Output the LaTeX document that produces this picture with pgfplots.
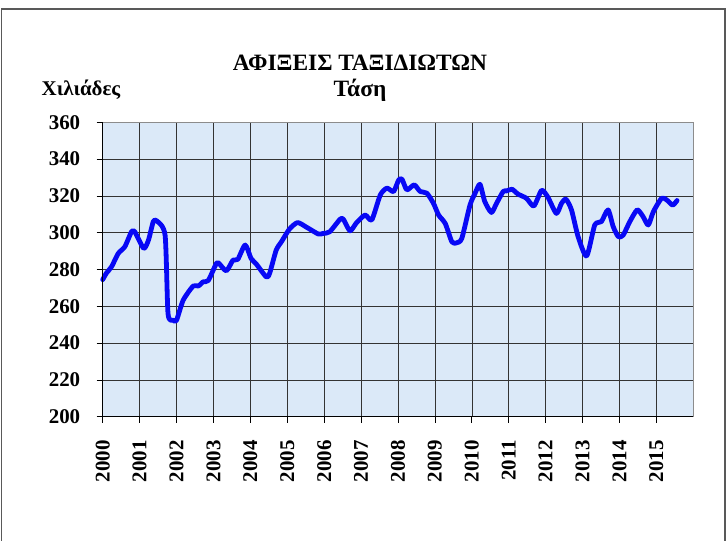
\documentclass[border=0pt]{standalone}
\usepackage{fontspec}
\setmainfont{Liberation Serif}
\usepackage{pgfplots}
\pgfplotsset{compat=1.18}
\definecolor{bgblue}{RGB}{219,233,248}
\definecolor{lineblue}{RGB}{8,8,245}
\begin{document}
\begin{tikzpicture}
\useasboundingbox (0bp,0bp) rectangle (728bp,541bp);
\draw[line width=1.2bp, black!65] (1.5bp,-10bp) rectangle (725bp,532bp);
\node[font=\bfseries\fontsize{23.5}{26}\selectfont] at (360bp,478bp) {ΑΦΙΞΕΙΣ ΤΑΞΙΔΙΩΤΩΝ};
\node[font=\bfseries\fontsize{23.5}{26}\selectfont] at (360bp,451bp) {Τάση};
\node[font=\bfseries\fontsize{21}{24}\selectfont] at (81bp,451bp) {Χιλιάδες};
\begin{axis}[
  at={(102.7bp,124.3bp)}, anchor=south west,
  scale only axis, width=590.6bp, height=294.4bp,
  xmin=2000, xmax=2016, ymin=200, ymax=360,
  xtick={2000,...,2015}, minor x tick num=1,
  ytick={200,220,...,360},
  xticklabels={2000,2001,2002,2003,2004,2005,2006,2007,2008,2009,2010,2011,2012,2013,2014,2015},
  grid=major,
  major grid style={black!80, line width=0.5bp},
  axis background/.style={fill=bgblue},
  axis line style={draw=black!45, line width=1.2bp},
  tick align=outside, xtick pos=bottom, ytick pos=left,
  major tick length=6bp, minor tick length=4bp,
  tick style={black, line width=0.6bp},
  minor x tick style={yshift=4bp},
  /pgf/number format/assume math mode=true,
  xticklabel style={font=\bfseries\fontsize{21}{24}\selectfont, rotate=90, anchor=east},
  xticklabel shift=14bp,
  yticklabel style={font=\bfseries\fontsize{21}{24}\selectfont, xshift=-13bp},
  clip=false,
]
\addplot[lineblue, line width=4.8bp, smooth, tension=0.4, line join=round, line cap=round] coordinates {
(2000.00,274.5) (2000.10,278) (2000.24,281.5) (2000.42,288.7) (2000.60,292.4)
(2000.78,300.5) (2000.87,300.5) (2001.11,291.5) (2001.24,296) (2001.37,306)
(2001.46,306.5) (2001.69,298.7) (2001.77,256) (2001.91,252.4) (2002.00,252.4)
(2002.18,263.3) (2002.45,271) (2002.59,271) (2002.72,273.3) (2002.86,274)
(2003.08,283.3) (2003.15,283.3) (2003.35,279.3) (2003.53,285.1) (2003.66,285.5)
(2003.86,293.3) (2004.02,286) (2004.16,283) (2004.43,276) (2004.52,277.8)
(2004.70,290.5) (2004.84,295) (2005.06,302) (2005.28,305.5) (2005.52,303)
(2005.84,299.3) (2005.97,299.6) (2006.15,300.5) (2006.43,307.3) (2006.52,307.3)
(2006.70,301) (2006.88,305.5) (2007.11,309.6) (2007.29,307) (2007.52,320.5)
(2007.70,324.2) (2007.88,322.4) (2008.02,328.7) (2008.11,329) (2008.24,323.3)
(2008.44,326) (2008.60,322.4) (2008.78,321.5) (2008.96,316) (2009.10,309.6)
(2009.28,305) (2009.46,295) (2009.59,294.5) (2009.73,297) (2009.95,315)
(2010.09,321.5) (2010.22,326.3) (2010.35,317) (2010.53,311) (2010.67,316)
(2010.85,322.4) (2010.94,322.7) (2011.09,323.6) (2011.25,321) (2011.48,318.7)
(2011.68,314.5) (2011.89,323) (2012.06,319.3) (2012.29,310.5) (2012.43,316)
(2012.55,318.2) (2012.70,312.4) (2012.88,297.8) (2013.11,287.3) (2013.33,304.2)
(2013.51,306) (2013.69,312.4) (2013.83,303.3) (2013.97,297.8) (2014.10,298.7)
(2014.28,306) (2014.48,312.4) (2014.64,308.7) (2014.78,304.2) (2014.92,311.5)
(2015.14,318.7) (2015.28,317.8) (2015.44,315) (2015.56,317.5)
};
\draw[black, line width=1bp] (rel axis cs:0,1) -- (rel axis cs:0,0) -- (rel axis cs:1,0);
\end{axis}
\end{tikzpicture}
\end{document}
